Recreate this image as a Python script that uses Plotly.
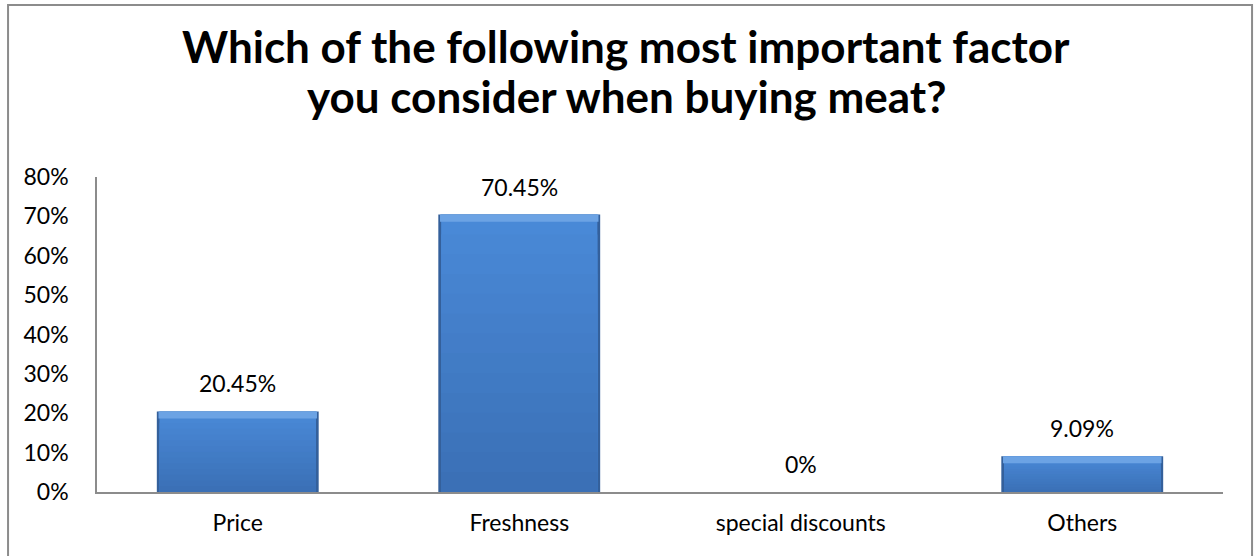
import plotly.graph_objects as go

# Survey results
categories = ["Price", "Freshness", "special discounts", "Others"]
shares = [20.45, 70.45, 0.0, 9.09]
labels = ["20.45%", "70.45%", "0%", "9.09%"]
tick_vals = [0, 10, 20, 30, 40, 50, 60, 70, 80]
tick_text = ["0%", "10%", "20%", "30%", "40%", "50%", "60%", "70%", "80%"]
title_lines = ["Which of the following most important factor",
               "you consider when buying meat?"]

FONT = "Lato"
BAR_W = 0.575


def blend(c1, c2, t):
    a = [int(c1[i:i + 2], 16) for i in (1, 3, 5)]
    b = [int(c2[i:i + 2], 16) for i in (1, 3, 5)]
    return "#" + "".join(f"{round(x + (y - x) * t):02X}" for x, y in zip(a, b))


fig = go.Figure()

# Dark outer bar gives the bevelled side edges
fig.add_trace(go.Bar(x=categories, y=shares, width=BAR_W,
                     marker=dict(color="#34609B", line=dict(width=0)),
                     hoverinfo="skip", showlegend=False))

# Body gradient: lighter at the top, darker towards the base
n = 14
for i in range(n):
    fig.add_trace(go.Bar(
        x=categories,
        y=[v * (n - i) / n for v in shares],
        width=BAR_W - 0.02,
        marker=dict(color=blend("#4989D7", "#3B70B6", i / (n - 1)), line=dict(width=0)),
        hoverinfo="skip", showlegend=False))

# Light top edge
bevel = 1.8
fig.add_trace(go.Bar(
    x=categories,
    y=[min(bevel, v) for v in shares],
    base=[v - min(bevel, v) for v in shares],
    width=BAR_W - 0.012,
    marker=dict(color="#6CA3E4", line=dict(width=0)),
    hoverinfo="skip", showlegend=False))

fig.update_layout(barmode="overlay")

for cat, v, t in zip(categories, shares, labels):
    fig.add_annotation(x=cat, y=v, text=t, showarrow=False, yanchor="bottom",
                       yshift=12, font=dict(family=FONT, size=23, color="#000000"))

for line, ypos in zip(title_lines, [1.415, 1.258]):
    fig.add_annotation(xref="paper", yref="paper", x=0.47, y=ypos, text=f"<b>{line}</b>",
                       showarrow=False, xanchor="center", yanchor="middle",
                       font=dict(family=FONT, size=44, color="#000000"))

fig.update_layout(
    width=1256, height=556,
    margin=dict(l=97, r=33, t=177, b=64),
    paper_bgcolor="white", plot_bgcolor="white",
    xaxis=dict(showline=True, linecolor="#8C8C8C", linewidth=1.5,
               showgrid=False, ticks="", tickfont=dict(family=FONT, size=23, color="#000000"),
               ticklabelstandoff=10),
    yaxis=dict(range=[0, 80], tickvals=tick_vals, ticktext=tick_text,
               showline=True, linecolor="#8C8C8C", linewidth=1.5,
               showgrid=False, zeroline=False, ticks="",
               tickfont=dict(family=FONT, size=23, color="#000000"),
               ticklabelstandoff=22),
    shapes=[dict(type="rect", xref="paper", yref="paper",
                 x0=-0.079, x1=1.0258, y0=-0.3, y1=1.546,
                 line=dict(color="#8C8C8C", width=2), fillcolor="rgba(0,0,0,0)",
                 layer="below")],
)

fig.write_html("out.html")
